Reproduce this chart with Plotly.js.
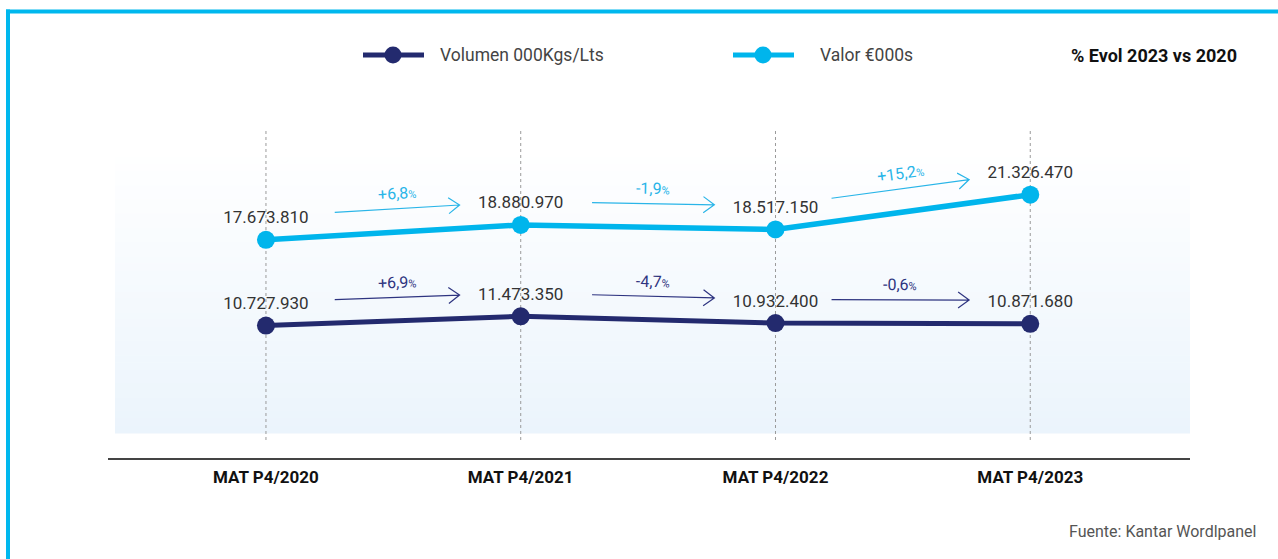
<!DOCTYPE html>
<html><head><meta charset="utf-8">
<script src="https://cdn.plot.ly/plotly-3.0.1.min.js"></script>
<style>html,body{margin:0;padding:0;background:#fff}#chart{width:1278px;height:559px}</style>
</head><body><div id="chart"></div>
<script>
// ---- data ----
const categories = ['MAT P4/2020', 'MAT P4/2021', 'MAT P4/2022', 'MAT P4/2023'];
const volumen = [10727930, 11473350, 10932400, 10871680];
const valor = [17673810, 18880970, 18517150, 21326470];
const seriesNames = ['Volumen 000Kgs/Lts', 'Valor €000s'];
const evolTitle = '% Evol 2023 vs 2020';
const footnote = 'Fuente: Kantar Wordlpanel';

// ---- styles / geometry ----
const FONT = 'Roboto, "Open Sans", sans-serif';
const C_VOL = '#232a6e', C_VAL = '#00b5ec';
const C_VOL_A = '#2e3480', C_VAL_A = '#29b5e8';
const W = 1278, H = 559;
const M = {l: 108, r: 88, t: 100, b: 101};
const PW = W - M.l - M.r, PH = H - M.t - M.b;
const XR = [-0.62, 3.627];
const YMAX = 29.0e6;
const pX = px => (px - M.l) / PW;           // pixel -> paper x
const pY = py => (H - M.b - py) / PH;       // pixel -> paper y
const dPx = i => M.l + (i - XR[0]) / (XR[1] - XR[0]) * PW;  // data x -> pixel
const dPy = v => M.t + PH * (1 - v / YMAX);                 // data y -> pixel

const shapes = [];
const annotations = [];

// frame
shapes.push({type: 'line', xref: 'paper', yref: 'paper', x0: pX(6), x1: pX(1280), y0: pY(11.5), y1: pY(11.5), line: {color: '#00b8ee', width: 4}});
shapes.push({type: 'line', xref: 'paper', yref: 'paper', x0: pX(8), x1: pX(8), y0: pY(9.5), y1: pY(562), line: {color: '#00b8ee', width: 4}});

// gradient background
const gTop = 150, gBot = 433, nB = 40;
for (let k = 0; k < nB; k++) {
  const t = (k + 0.5) / nB;
  const r = Math.round(255 + (235 - 255) * t), g = Math.round(255 + (244 - 255) * t), b = Math.round(255 + (252 - 255) * t);
  const y0 = gTop + (gBot - gTop) * k / nB, y1 = gTop + (gBot - gTop) * (k + 1) / nB + 0.5;
  shapes.push({type: 'rect', xref: 'paper', yref: 'paper', layer: 'below', x0: pX(115), x1: pX(1190), y0: pY(y1), y1: pY(y0), line: {width: 0}, fillcolor: `rgb(${r},${g},${b})`});
}
// dashed verticals
categories.forEach((c, i) => {
  shapes.push({type: 'line', xref: 'x', yref: 'paper', layer: 'below', x0: i, x1: i, y0: pY(440), y1: pY(130), line: {color: '#9a9a9a', width: 1, dash: '3px,3px'}});
});

// growth arrows
const startOff = [0.27, 0.28, 0.22];
const endOff = 0.76;
function addArrows(vals, color) {
  for (let k = 0; k < vals.length - 1; k++) {
    const a = vals[k], b = vals[k + 1];
    const x0 = k + startOff[k], x1 = k + endOff;
    const v0 = a + (b - a) * (x0 - k), v1 = a + (b - a) * (x1 - k);
    const X0 = dPx(x0), Y0 = dPy(v0) - 23.5, X1 = dPx(x1), Y1 = dPy(v1) - 23.5;
    const len = Math.hypot(X1 - X0, Y1 - Y0);
    const ux = (X1 - X0) / len, uy = (Y1 - Y0) / len, nx = -uy, ny = ux;
    const wa = [X1 - 11 * ux + 8 * nx, Y1 - 11 * uy + 8 * ny];
    const wb = [X1 - 11 * ux - 8 * nx, Y1 - 11 * uy - 8 * ny];
    const P = (x, y) => `${pX(x)},${pY(y)}`;
    shapes.push({type: 'path', xref: 'paper', yref: 'paper',
      path: `M ${P(X0, Y0)} L ${P(X1, Y1)} M ${P(wa[0], wa[1])} L ${P(X1, Y1)} L ${P(wb[0], wb[1])}`,
      line: {color: color, width: 1.2}, fillcolor: 'rgba(0,0,0,0)'});
    const pct = (b / a - 1) * 100;
    const txt = (pct >= 0 ? '+' : '-') + Math.abs(pct).toFixed(1).replace('.', ',') + '<span style="font-size:11px">%</span>';
    const ang = Math.atan2(Y1 - Y0, X1 - X0) * 180 / Math.PI;
    annotations.push({xref: 'paper', yref: 'paper', x: pX((X0 + X1) / 2), y: pY((Y0 + Y1) / 2 - 15), text: txt, showarrow: false, textangle: ang,
      font: {family: FONT, size: 16, color: color}, xanchor: 'center', yanchor: 'middle'});
  }
}
addArrows(valor, C_VAL_A);
addArrows(volumen, C_VOL_A);

// custom legend
function legendItem(x0, x1, xc, xt, color, name) {
  shapes.push({type: 'line', xref: 'paper', yref: 'paper', x0: pX(x0), x1: pX(x1), y0: pY(55), y1: pY(55), line: {color: color, width: 5}});
  shapes.push({type: 'circle', xref: 'paper', yref: 'paper', x0: pX(xc - 8.5), x1: pX(xc + 8.5), y0: pY(63.5), y1: pY(46.5), line: {width: 0}, fillcolor: color});
  annotations.push({xref: 'paper', yref: 'paper', x: pX(xt), y: pY(55), xanchor: 'left', yanchor: 'middle', text: name, showarrow: false, font: {family: FONT, size: 17.5, color: '#444'}});
}
legendItem(363, 424, 393, 438, C_VOL, seriesNames[0]);
legendItem(733, 794, 763, 818, C_VAL, seriesNames[1]);
annotations.push({xref: 'paper', yref: 'paper', x: pX(1239), y: pY(55), xanchor: 'right', yanchor: 'middle', text: '<b>' + evolTitle + '</b>', showarrow: false, font: {family: FONT, size: 18, color: '#111'}});
annotations.push({xref: 'paper', yref: 'paper', x: pX(1258), y: pY(531), xanchor: 'right', yanchor: 'middle', text: footnote, showarrow: false, font: {family: FONT, size: 16, color: '#555'}});

const traces = [
  {x: categories, y: volumen, name: seriesNames[0], type: 'scatter', mode: 'lines+markers+text',
   line: {color: C_VOL, width: 5}, marker: {color: C_VOL, size: 18},
   texttemplate: '%{y:,.0f}', textposition: 'top center', textfont: {family: FONT, size: 17, color: '#333'}, cliponaxis: false},
  {x: categories, y: valor, name: seriesNames[1], type: 'scatter', mode: 'lines+markers+text',
   line: {color: C_VAL, width: 5.5}, marker: {color: C_VAL, size: 18},
   texttemplate: '%{y:,.0f}', textposition: 'top center', textfont: {family: FONT, size: 17, color: '#333'}, cliponaxis: false}
];

const layout = {
  width: W, height: H, margin: M, showlegend: false,
  paper_bgcolor: '#fff', plot_bgcolor: 'rgba(0,0,0,0)',
  separators: ',.',
  font: {family: FONT},
  xaxis: {type: 'category', range: XR, showgrid: false, zeroline: false, showline: true, linecolor: '#444', linewidth: 2,
          ticks: '', tickfont: {family: FONT, size: 17, color: '#111', weight: 'bold'}, ticklabelstandoff: 3, fixedrange: true},
  yaxis: {range: [0, YMAX], visible: false, showgrid: false, zeroline: false, fixedrange: true},
  shapes: shapes, annotations: annotations
};
Plotly.newPlot('chart', traces, layout, {staticPlot: true, displayModeBar: false});
</script></body></html>
